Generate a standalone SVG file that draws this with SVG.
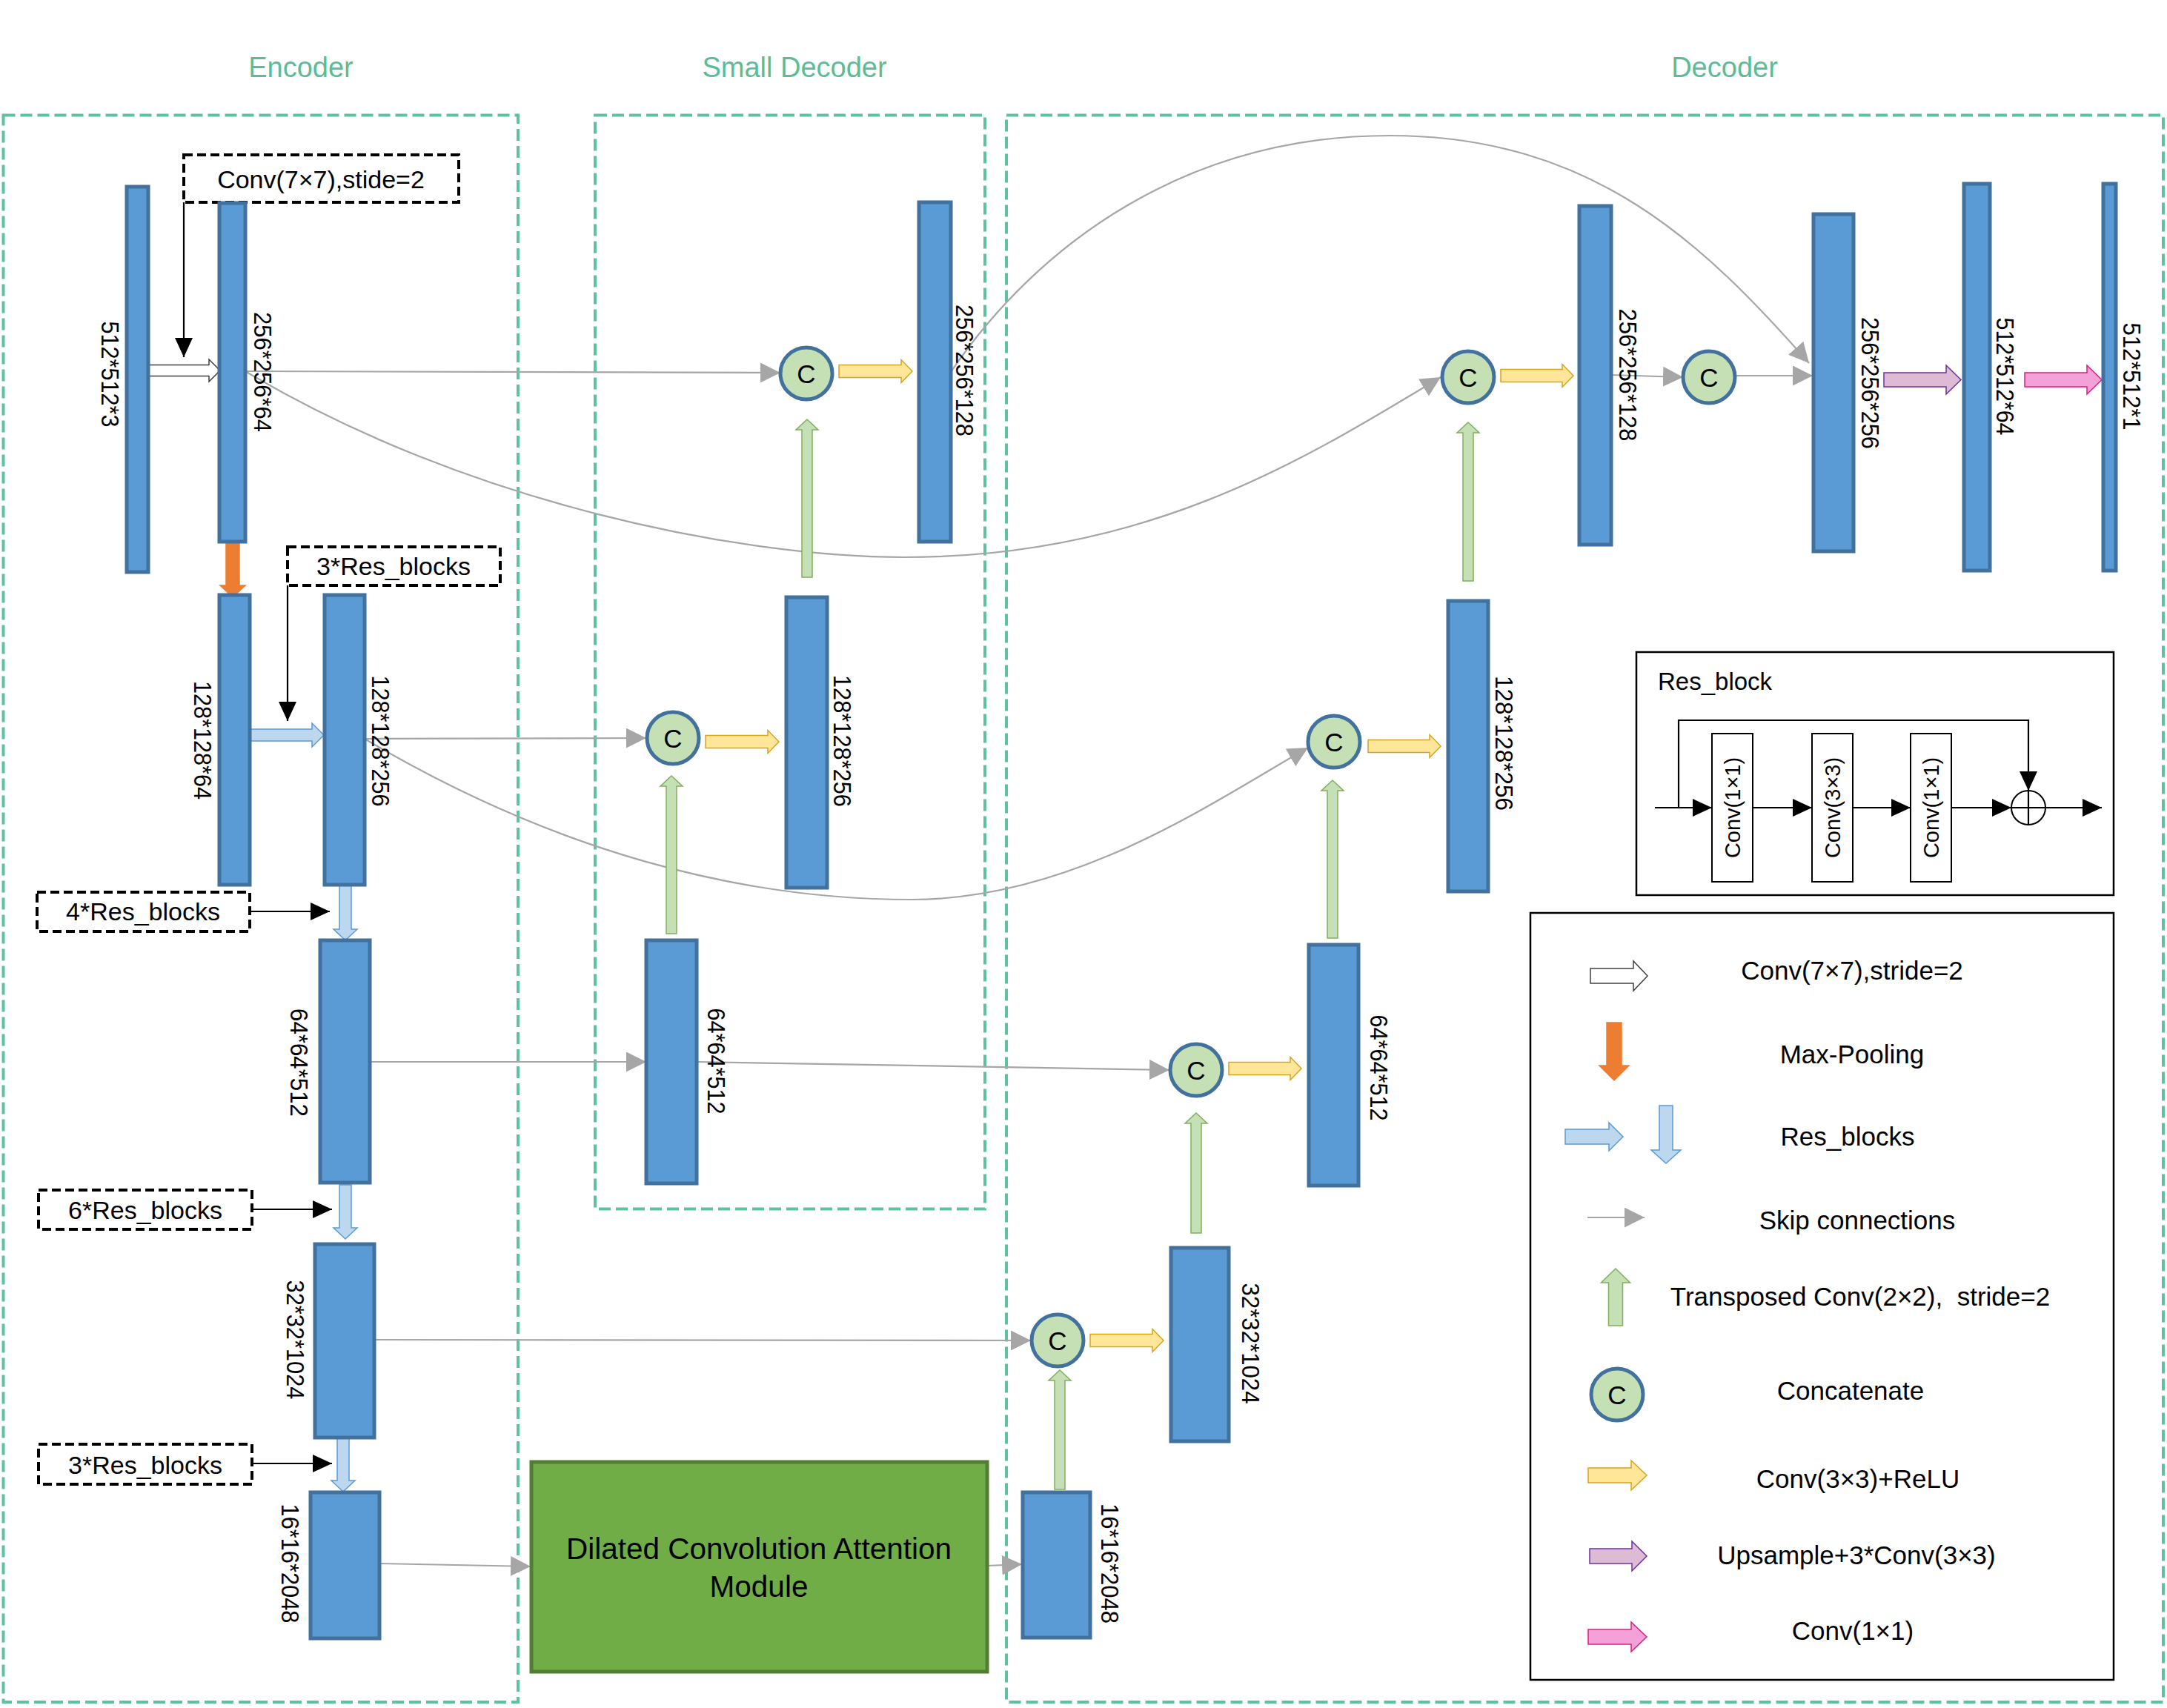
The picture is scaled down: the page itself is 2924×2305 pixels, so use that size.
<svg xmlns="http://www.w3.org/2000/svg" width="2924" height="2305" viewBox="0 0 2924 2305">
<style>
text{font-family:"Liberation Sans",Arial,sans-serif;fill:#000}
.title{font-size:38px;fill:#5BBD96;text-anchor:middle}
.frame{fill:none;stroke:#5EC29E;stroke-width:4;stroke-dasharray:16 7}
.bx{fill:#fff;stroke:#000;stroke-width:4;stroke-dasharray:12 6}
.bar{fill:#5B9BD5;stroke:#41719C;stroke-width:5}
.dim{font-size:33px;text-anchor:middle;dominant-baseline:central}
.cc{fill:#C5E0B4;stroke:#41719C;stroke-width:5}
.ct{font-size:35px;text-anchor:middle;dominant-baseline:central}
.skip{fill:none;stroke:#A6A6A6;stroke-width:2.2}
.blk{fill:none;stroke:#000;stroke-width:2.2}
.wa{fill:#fff;stroke:#404040;stroke-width:1.5}
.ba{fill:#BDD7EE;stroke:#5B9BD5;stroke-width:1.5}
.oa{fill:#ED7D31;stroke:#ED7D31;stroke-width:1.5}
.ya{fill:#FFE699;stroke:#D6A520;stroke-width:1.5}
.ga{fill:#C5E0B4;stroke:#82AE5F;stroke-width:1.5}
.pa{fill:#DDBBD5;stroke:#7030A0;stroke-width:1.5}
.ka{fill:#F4A0D9;stroke:#D8207F;stroke-width:1.5}
.lbl{font-size:35px;text-anchor:middle}
.bl{font-size:34px;text-anchor:middle}
</style>
<defs>
<marker id="ag" viewBox="0 0 27 27" refX="27" refY="13.5" markerWidth="27" markerHeight="27" markerUnits="userSpaceOnUse" orient="auto"><path d="M0,0 L27,13.5 L0,27 z" fill="#A6A6A6"/></marker>
<marker id="ab" viewBox="0 0 26 24" refX="26" refY="12" markerWidth="26" markerHeight="24" markerUnits="userSpaceOnUse" orient="auto"><path d="M0,0 L26,12 L0,24 z" fill="#000"/></marker>
</defs>
<rect width="2924" height="2305" fill="#fff"/>

<g id="titles">
<text class="title" x="406" y="104">Encoder</text>
<text class="title" x="1072" y="104">Small Decoder</text>
<text class="title" x="2327" y="104">Decoder</text>
</g>

<g id="frames">
<rect id="encoder-frame" class="frame" x="4.5" y="155.5" width="694.5" height="2141.5"/>
<rect id="small-decoder-frame" class="frame" x="803" y="155.5" width="526" height="1476"/>
<rect id="decoder-frame" class="frame" x="1358" y="155.5" width="1561" height="2141.5"/>
</g>

<g id="connectors">
<path class="skip" d="M331,501 L1053,503" marker-end="url(#ag)"/>
<path class="skip" d="M492,997 L872,996" marker-end="url(#ag)"/>
<path class="skip" d="M499,1433 L872,1433" marker-end="url(#ag)"/>
<path class="skip" d="M940,1433 L1578,1444" marker-end="url(#ag)"/>
<path class="skip" d="M505,1808 L1391,1809" marker-end="url(#ag)"/>
<path class="skip" d="M512,2110 L716,2114" marker-end="url(#ag)"/>
<path class="skip" d="M1332,2113 L1379,2111" marker-end="url(#ag)"/>
<path class="skip" d="M2174,506 L2271,509" marker-end="url(#ag)"/>
<path class="skip" d="M2342,507 L2446,507" marker-end="url(#ag)"/>
<path class="skip" d="M331,501 C631,680 1000,752 1220,752 C1550,752 1760,620 1944,509" marker-end="url(#ag)"/>
<path class="skip" d="M492,997 C750,1150 1000,1214 1230,1214 C1450,1214 1640,1080 1765,1009" marker-end="url(#ag)"/>
<path class="skip" d="M1283,502 C1400,330 1600,183 1875,183 C2150,183 2300,330 2441,490" marker-end="url(#ag)"/>
<path class="blk" d="M248,273 L248,482" marker-end="url(#ab)"/>
<path class="blk" d="M388,790 L388,973" marker-end="url(#ab)"/>
<path class="blk" d="M337,1230 L445,1230" marker-end="url(#ab)"/>
<path class="blk" d="M340,1632 L448,1632" marker-end="url(#ab)"/>
<path class="blk" d="M340,1975 L448,1975" marker-end="url(#ab)"/>
<polygon class="wa" points="198,492.5 282,492.5 282,485 297,500 282,515 282,507.5 198,507.5"/>
<polygon class="oa" points="305,731 323,731 323,790 331,790 314,806 297,790 305,790"/>
<polygon class="ba" points="338,984 421,984 421,976 437,992 421,1008 421,1000 338,1000"/>
<polygon class="ba" points="458,1195 474,1195 474,1254 482,1254 466,1269 450,1254 458,1254"/>
<polygon class="ba" points="458,1599 474,1599 474,1657 482,1657 466,1672 450,1657 458,1657"/>
<polygon class="ba" points="455,1940 471,1940 471,1998 479,1998 463,2013 447,1998 455,1998"/>
<polygon class="ya" points="1132,492.5 1216,492.5 1216,485.5 1231,501 1216,516.5 1216,509.5 1132,509.5"/>
<polygon class="ya" points="952,992.5 1036,992.5 1036,985.5 1051,1001 1036,1016.5 1036,1009.5 952,1009.5"/>
<polygon class="ya" points="2025,498.5 2108,498.5 2108,491.5 2123,507 2108,522.5 2108,515.5 2025,515.5"/>
<polygon class="ya" points="1846,998.5 1929,998.5 1929,991.5 1944,1007 1929,1022.5 1929,1015.5 1846,1015.5"/>
<polygon class="ya" points="1658,1433.5 1741,1433.5 1741,1426.5 1756,1442 1741,1457.5 1741,1450.5 1658,1450.5"/>
<polygon class="ya" points="1471,1800.5 1555,1800.5 1555,1793.5 1570,1809 1555,1824.5 1555,1817.5 1471,1817.5"/>
<polygon class="ga" points="1082,779 1082,580 1074,580 1089,566 1104,580 1096,580 1096,779"/>
<polygon class="ga" points="899,1260 899,1061 891,1061 906,1047 921,1061 913,1061 913,1260"/>
<polygon class="ga" points="1974,784 1974,584 1966,584 1981,570 1996,584 1988,584 1988,784"/>
<polygon class="ga" points="1791,1266 1791,1067 1783,1067 1798,1053 1813,1067 1805,1067 1805,1266"/>
<polygon class="ga" points="1607,1664 1607,1516 1599,1516 1614,1502 1629,1516 1621,1516 1621,1664"/>
<polygon class="ga" points="1423,2010 1423,1863 1415,1863 1430,1849 1445,1863 1437,1863 1437,2010"/>
<polygon class="pa" points="2542,503 2626,503 2626,493 2646,512.5 2626,532 2626,522 2542,522"/>
<polygon class="ka" points="2732,503 2816,503 2816,493 2836,512.5 2816,532 2816,522 2732,522"/>
</g>

<g id="encoder">
<g id="conv-note"><rect class="bx" x="248" y="209" width="371" height="64"/><text class="bl" x="433" y="254">Conv(7×7),stide=2</text></g>
<g id="res3-note-a"><rect class="bx" x="388" y="738" width="287" height="52"/><text class="bl" x="531" y="776">3*Res_blocks</text></g>
<g id="res4-note"><rect class="bx" x="50" y="1204" width="287" height="53"/><text class="bl" x="193" y="1242">4*Res_blocks</text></g>
<g id="res6-note"><rect class="bx" x="52" y="1606" width="288" height="53"/><text class="bl" x="196" y="1645">6*Res_blocks</text></g>
<g id="res3-note-b"><rect class="bx" x="52" y="1949" width="288" height="54"/><text class="bl" x="196" y="1989">3*Res_blocks</text></g>
<g id="enc-512x3"><rect class="bar" x="171" y="252" width="29" height="520"/><text class="dim" x="148" y="505" transform="rotate(90 148 505)" textLength="143" lengthAdjust="spacingAndGlyphs">512*512*3</text></g>
<g id="enc-256x64"><rect class="bar" x="296" y="274" width="35" height="457"/><text class="dim" x="354" y="502" transform="rotate(90 354 502)" textLength="162" lengthAdjust="spacingAndGlyphs">256*256*64</text></g>
<g id="enc-128x64"><rect class="bar" x="296" y="803" width="41" height="391"/><text class="dim" x="273" y="999" transform="rotate(90 273 999)" textLength="160" lengthAdjust="spacingAndGlyphs">128*128*64</text></g>
<g id="enc-128x256"><rect class="bar" x="438" y="803" width="54" height="391"/><text class="dim" x="513" y="1000" transform="rotate(90 513 1000)" textLength="177" lengthAdjust="spacingAndGlyphs">128*128*256</text></g>
<g id="enc-64x512"><rect class="bar" x="432" y="1269" width="67" height="327"/><text class="dim" x="403" y="1434" transform="rotate(90 403 1434)" textLength="146" lengthAdjust="spacingAndGlyphs">64*64*512</text></g>
<g id="enc-32x1024"><rect class="bar" x="425" y="1679" width="80" height="261"/><text class="dim" x="398" y="1808" transform="rotate(90 398 1808)" textLength="161" lengthAdjust="spacingAndGlyphs">32*32*1024</text></g>
<g id="enc-16x2048"><rect class="bar" x="419" y="2014" width="93" height="197"/><text class="dim" x="391" y="2110" transform="rotate(90 391 2110)" textLength="161" lengthAdjust="spacingAndGlyphs">16*16*2048</text></g>
</g>

<g id="dcam"><rect x="717" y="1973" width="615" height="283" fill="#70AD47" stroke="#507E32" stroke-width="5"/>
<text x="1024" y="2104" style="font-size:40.5px;text-anchor:middle">Dilated Convolution Attention</text>
<text x="1024" y="2155" style="font-size:40.5px;text-anchor:middle">Module</text></g>

<g id="small-decoder">
<g id="sd-c256"><circle class="cc" cx="1088" cy="504" r="35"/><text class="ct" x="1088" y="504">C</text></g>
<g id="sd-c128"><circle class="cc" cx="908" cy="996" r="35"/><text class="ct" x="908" y="996">C</text></g>
<g id="sd-256x128"><rect class="bar" x="1240" y="273" width="43" height="458"/><text class="dim" x="1301" y="500" transform="rotate(90 1301 500)" textLength="178" lengthAdjust="spacingAndGlyphs">256*256*128</text></g>
<g id="sd-128x256"><rect class="bar" x="1061" y="806" width="55" height="392"/><text class="dim" x="1136" y="1000" transform="rotate(90 1136 1000)" textLength="178" lengthAdjust="spacingAndGlyphs">128*128*256</text></g>
<g id="sd-64x512"><rect class="bar" x="872" y="1269" width="68" height="328"/><text class="dim" x="966" y="1432" transform="rotate(90 966 1432)" textLength="143" lengthAdjust="spacingAndGlyphs">64*64*512</text></g>
</g>

<g id="decoder">
<g id="d-16x2048"><rect class="bar" x="1380" y="2014" width="91" height="196"/><text class="dim" x="1497" y="2110" transform="rotate(90 1497 2110)" textLength="162" lengthAdjust="spacingAndGlyphs">16*16*2048</text></g>
<g id="d-c32"><circle class="cc" cx="1427" cy="1809" r="35"/><text class="ct" x="1427" y="1809">C</text></g>
<g id="d-32x1024"><rect class="bar" x="1580" y="1684" width="78" height="261"/><text class="dim" x="1687" y="1813" transform="rotate(90 1687 1813)" textLength="163" lengthAdjust="spacingAndGlyphs">32*32*1024</text></g>
<g id="d-c64"><circle class="cc" cx="1614" cy="1444" r="35"/><text class="ct" x="1614" y="1444">C</text></g>
<g id="d-64x512"><rect class="bar" x="1766" y="1275" width="67" height="325"/><text class="dim" x="1860" y="1441" transform="rotate(90 1860 1441)" textLength="143" lengthAdjust="spacingAndGlyphs">64*64*512</text></g>
<g id="d-c128"><circle class="cc" cx="1800" cy="1001" r="35"/><text class="ct" x="1800" y="1001">C</text></g>
<g id="d-128x256"><rect class="bar" x="1954" y="811" width="54" height="392"/><text class="dim" x="2029" y="1003" transform="rotate(90 2029 1003)" textLength="182" lengthAdjust="spacingAndGlyphs">128*128*256</text></g>
<g id="d-c256a"><circle class="cc" cx="1981" cy="509" r="35"/><text class="ct" x="1981" y="509">C</text></g>
<g id="d-256x128"><rect class="bar" x="2131" y="278" width="43" height="457"/><text class="dim" x="2196" y="506" transform="rotate(90 2196 506)" textLength="179" lengthAdjust="spacingAndGlyphs">256*256*128</text></g>
<g id="d-c256b"><circle class="cc" cx="2306" cy="509" r="35"/><text class="ct" x="2306" y="509">C</text></g>
<g id="d-256x256"><rect class="bar" x="2447" y="289" width="54" height="455"/><text class="dim" x="2523" y="517" transform="rotate(90 2523 517)" textLength="178" lengthAdjust="spacingAndGlyphs">256*256*256</text></g>
<g id="d-512x64"><rect class="bar" x="2650" y="248" width="35" height="522"/><text class="dim" x="2705" y="508" transform="rotate(90 2705 508)" textLength="159" lengthAdjust="spacingAndGlyphs">512*512*64</text></g>
<g id="d-512x1"><rect class="bar" x="2838" y="248" width="17" height="522"/><text class="dim" x="2876" y="508" transform="rotate(90 2876 508)" textLength="145" lengthAdjust="spacingAndGlyphs">512*512*1</text></g>
</g>

<g id="res-block">
<rect x="2208" y="880" width="644" height="328" fill="#fff" stroke="#000" stroke-width="2.5"/>
<text x="2237" y="931" style="font-size:33px">Res_block</text>
<rect x="2310" y="990" width="55" height="200" fill="#fff" stroke="#000" stroke-width="2"/>
<rect x="2445" y="990" width="55" height="200" fill="#fff" stroke="#000" stroke-width="2"/>
<rect x="2578" y="990" width="55" height="200" fill="#fff" stroke="#000" stroke-width="2"/>
<text class="dim" style="font-size:29px" x="2337.5" y="1090" transform="rotate(-90 2337.5 1090)">Conv(1×1)</text>
<text class="dim" style="font-size:29px" x="2472.5" y="1090" transform="rotate(-90 2472.5 1090)">Conv(3×3)</text>
<text class="dim" style="font-size:29px" x="2605.5" y="1090" transform="rotate(-90 2605.5 1090)">Conv(1×1)</text>
<path class="blk" d="M2233,1090 L2310,1090" marker-end="url(#ab)"/>
<path class="blk" d="M2365,1090 L2445,1090" marker-end="url(#ab)"/>
<path class="blk" d="M2500,1090 L2578,1090" marker-end="url(#ab)"/>
<path class="blk" d="M2633,1090 L2714,1090" marker-end="url(#ab)"/>
<path class="blk" d="M2760,1090 L2836,1090" marker-end="url(#ab)"/>
<path class="blk" d="M2265,1090 L2265,972 L2737,972 L2737,1067" marker-end="url(#ab)"/>
<circle cx="2737" cy="1090" r="23" fill="none" stroke="#000" stroke-width="2"/>
<path class="blk" d="M2714,1090 L2760,1090 M2737,1067 L2737,1113"/>
</g>

<g id="legend">
<rect x="2065" y="1232" width="787" height="1035" fill="#fff" stroke="#000" stroke-width="2.5"/>
<polygon class="wa" points="2146,1307 2204,1307 2204,1297 2223,1317 2204,1337 2204,1327 2146,1327"/>
<text class="lbl" x="2499" y="1322">Conv(7×7),stride=2</text>
<polygon class="oa" points="2168,1380 2188,1380 2188,1438 2198,1438 2178,1458 2158,1438 2168,1438"/>
<text class="lbl" x="2499" y="1435">Max-Pooling</text>
<polygon class="ba" points="2112,1524 2171,1524 2171,1515 2190,1534 2171,1553 2171,1544 2112,1544"/>
<polygon class="ba" points="2239,1492 2257,1492 2257,1552 2268,1552 2248,1570 2228,1552 2239,1552"/>
<text class="lbl" x="2493" y="1546">Res_blocks</text>
<path class="skip" d="M2142,1643 L2219,1643" marker-end="url(#ag)"/>
<text class="lbl" x="2506" y="1659">Skip connections</text>
<polygon class="ga" points="2170.5,1789 2170.5,1731 2160.5,1731 2180,1712 2199.5,1731 2189.5,1731 2189.5,1789"/>
<text class="lbl" x="2510" y="1762" xml:space="preserve">Transposed Conv(2×2),  stride=2</text>
<circle class="cc" cx="2182" cy="1882" r="35"/><text class="ct" x="2182" y="1882">C</text>
<text class="lbl" x="2497" y="1889">Concatenate</text>
<polygon class="ya" points="2143,1981 2201,1981 2201,1971 2222,1991 2201,2011 2201,2001 2143,2001"/>
<text class="lbl" x="2507" y="2008">Conv(3×3)+ReLU</text>
<polygon class="pa" points="2145,2090 2202,2090 2202,2080 2222,2100 2202,2120 2202,2110 2145,2110"/>
<text class="lbl" x="2505" y="2111">Upsample+3*Conv(3×3)</text>
<polygon class="ka" points="2143,2199 2201,2199 2201,2189 2222,2209 2201,2229 2201,2219 2143,2219"/>
<text class="lbl" x="2500" y="2213">Conv(1×1)</text>
</g>
</svg>
